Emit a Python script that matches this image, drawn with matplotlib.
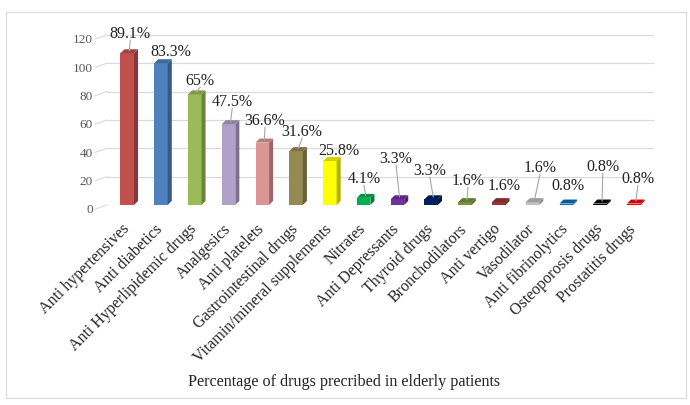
import numpy as np
import matplotlib
matplotlib.use("Agg")
import matplotlib.pyplot as plt
import matplotlib.transforms as mtransforms
from matplotlib.patches import Polygon, Rectangle

plt.rcParams["font.family"] = ["Liberation Serif", "DejaVu Serif"]

# Drug categories and number of patients (label shows percentage)
categories = ["Anti hypertensives", "Anti diabetics", "Anti Hyperlipidemic drugs",
              "Analgesics", "Anti platelets", "Gastrointestinal drugs",
              "Vitamin/mineral supplements", "Nitrates", "Anti Depressants",
              "Thyroid drugs", "Bronchodilators", "Anti vertigo", "Vasodilator",
              "Anti fibrinolytics", "Osteoporosis drugs", "Prostatitis drugs"]
counts = [107, 100, 78, 57, 44, 38, 31, 5, 4, 4, 2, 2, 2, 1, 1, 1]
pct_labels = ["89.1%", "83.3%", "65%", "47.5%", "36.6%", "31.6%", "25.8%", "4.1%",
              "3.3%", "3.3%", "1.6%", "1.6%", "1.6%", "0.8%", "0.8%", "0.8%"]
colors = ["#C0504D", "#4F81BD", "#9BBB59", "#B1A0C7", "#DA9694", "#948A54",
          "#FFFF00", "#00B050", "#7030A0", "#002060", "#77933C", "#953735",
          "#BFBFBF", "#0070C0", "#000000", "#FF0000"]

# label placement (data coords) and whether a leader line is drawn
label_x = [0.09, 1.30, 2.16, 3.11, 4.08, 5.18, 6.27, 7.01, 7.96, 8.96,
           10.09, 11.15, 12.22, 13.05, 14.08, 15.12]
label_y = [120.7, 108, 87.5, 72.7, 59.3, 51.5, 38.1, 18.3, 32.5, 24,
           16.9, 13.4, 26.1, 13.4, 26.8, 18.3]
leader = [1, 0, 1, 1, 1, 1, 0, 1, 1, 1, 1, 0, 1, 0, 1, 1]


def shade(c, f):
    rgb = np.array(matplotlib.colors.to_rgb(c))
    return tuple(np.clip(rgb * f, 0, 1))


fig = plt.figure(figsize=(6.9, 4.05), dpi=100)
ax = fig.add_axes([0.155, 0.494, 0.793, 0.42])

# figure border
fig.patches.append(Rectangle((0.009, 0.017), 0.985, 0.954, transform=fig.transFigure,
                             fill=False, edgecolor="#D9D9D9", linewidth=0.8))

ax.set_xlim(-0.6, 15.6)
ax.set_ylim(0, 120)

# gridlines with a small slanted side-wall piece
for t in range(0, 121, 20):
    ax.plot([-0.6, 15.6], [t, t], color="#D9D9D9", lw=0.8, zorder=0)
    ax.plot([-0.95, -0.6], [t - 3, t], color="#D9D9D9", lw=0.8, zorder=0, clip_on=False)

w = 0.40
dx, dy = 0.12, 2.8
for i, (v, c) in enumerate(zip(counts, colors)):
    x0, x1 = i - w / 2, i + w / 2
    front = Polygon([(x0, 0), (x1, 0), (x1, v), (x0, v)], closed=True,
                    facecolor=c, edgecolor="none", zorder=3)
    side = Polygon([(x1, 0), (x1 + dx, dy), (x1 + dx, v + dy), (x1, v)], closed=True,
                   facecolor=shade(c, 0.7), edgecolor="none", zorder=3)
    top = Polygon([(x0, v), (x1, v), (x1 + dx, v + dy), (x0 + dx, v + dy)], closed=True,
                  facecolor=shade(c, 0.82), edgecolor="none", zorder=3)
    for p in (front, side, top):
        p.set_clip_on(False)
        ax.add_patch(p)

    ax.text(label_x[i], label_y[i], pct_labels[i], ha="center", va="center",
            fontsize=11.5, color="#222222", zorder=5, clip_on=False)
    if leader[i]:
        ax.plot([i + 0.06, label_x[i]], [v + dy * 0.6, label_y[i] - 4.5],
                color="#A6A6A6", lw=0.8, zorder=4, clip_on=False)

ax.set_yticks(range(0, 121, 20))
ax.set_xticks(range(len(categories)))
ax.set_xticklabels(categories, rotation=45, ha="right", va="top",
                   rotation_mode="anchor", fontsize=11.5, color="#262626")
ax.tick_params(axis="y", length=0, pad=10, labelsize=9.5, labelcolor="#595959")
ax.tick_params(axis="x", length=0, pad=6)
for s in ax.spines.values():
    s.set_visible(False)

# nudge tick labels to sit like the 3D chart's
xshift = mtransforms.ScaledTranslation(-0.06, -0.08, fig.dpi_scale_trans)
for lbl in ax.get_xticklabels():
    lbl.set_transform(lbl.get_transform() + xshift)
yshift = mtransforms.ScaledTranslation(0.0, -0.04, fig.dpi_scale_trans)
for lbl in ax.get_yticklabels():
    lbl.set_transform(lbl.get_transform() + yshift)

fig.text(0.499, 0.057, "Percentage of drugs precribed in elderly patients",
         ha="center", va="center", fontsize=11.6, color="#222222")

fig.savefig("out.png", dpi=100)
